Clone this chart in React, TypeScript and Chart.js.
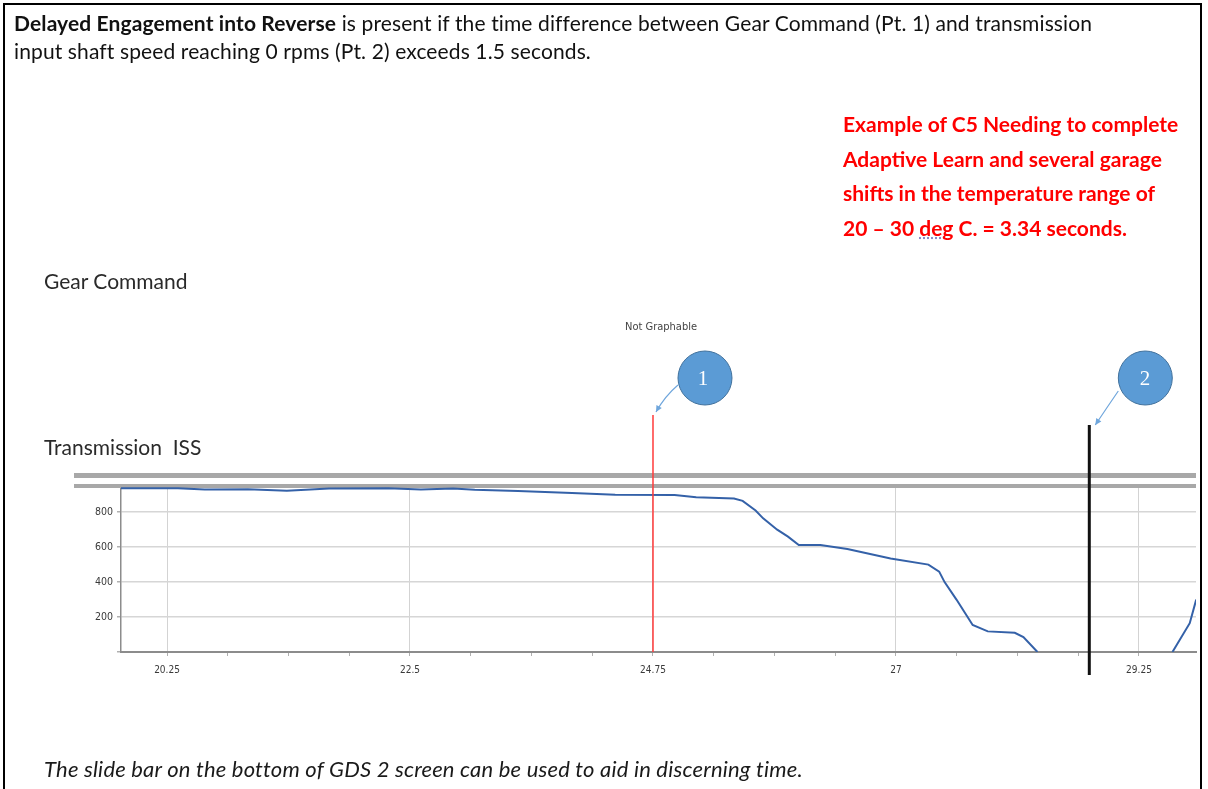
import React, { useEffect, useRef } from 'react';
import { Chart, registerables } from 'chart.js';

Chart.register(...registerables);

// ---- data ----
const timeSeconds = [19.82, 20.35, 20.6, 21.0, 21.36, 21.75, 22.3, 22.6, 22.9, 23.1, 23.5, 24.0, 24.4, 24.95, 25.15, 25.5, 25.58, 25.7, 25.77, 25.9, 26.0, 26.1, 26.3, 26.55, 26.95, 27.3, 27.4, 27.45, 27.56, 27.71, 27.85, 28.1, 28.18, 28.31, 28.9, 29.56, 29.72, 29.78];
const issRpm: (number | null)[] = [937, 937, 930, 931, 923, 935, 937, 930, 935, 928, 922, 910, 900, 898, 885, 878, 865, 810, 765, 700, 660, 612, 612, 590, 535, 500, 460, 400, 300, 155, 118, 110, 85, 0, null, 0, 165, 300];
const majorTicks = [20.25, 22.5, 24.75, 27, 29.25];
const majorTickLabels = ['20.25', '22.5', '24.75', '27', '29.25'];
const yTicks = [0, 200, 400, 600, 800];
const yTickLabels = ['', '200', '400', '600', '800'];
const xRange = [19.824, 29.778];
const yRange = [0, 950];
const gearCommandTime = 24.75; // Pt. 1
const zeroSpeedTime = 28.79; // Pt. 2
const markerLabels = ['1', '2'];

const FONT = "Lato, 'Open Sans', sans-serif";
const NARROW = "'Liberation Sans Narrow', 'DejaVu Sans Condensed', sans-serif";

const overlayPlugin = {
  id: 'overlay',
  beforeDatasetsDraw(chart: any) {
    const { ctx, chartArea } = chart;
    ctx.save();
    // double grey band (track separators)
    ctx.fillStyle = '#a8a8a8';
    ctx.fillRect(74, 473, 1196 - 74, 5);
    ctx.fillRect(74, chartArea.top - 2, 1196 - 74, 4);
    ctx.restore();
  },
  afterDatasetsDraw(chart: any) {
    const { ctx, chartArea, scales } = chart;
    const x1 = scales.x.getPixelForValue(gearCommandTime);
    const x2 = scales.x.getPixelForValue(zeroSpeedTime);
    ctx.save();
    // red marker (Pt. 1)
    ctx.strokeStyle = '#ff3b3b';
    ctx.lineWidth = 1.5;
    ctx.beginPath();
    ctx.moveTo(x1, 415);
    ctx.lineTo(x1, chartArea.bottom);
    ctx.stroke();
    // black marker (Pt. 2)
    ctx.strokeStyle = '#111';
    ctx.lineWidth = 3;
    ctx.beginPath();
    ctx.moveTo(x2, 425);
    ctx.lineTo(x2, chartArea.bottom + 23);
    ctx.stroke();

    const circles = [
      { cx: x1 + 52, cy: 378, tx: x1 + 3, ty: 412, sx: x1 + 25, sy: 385, mx: x1 + 12, my: 396 },
      { cx: x2 + 56, cy: 378, tx: x2 + 6, ty: 425, sx: x2 + 29, sy: 391, mx: x2 + 18, my: 407 },
    ];
    circles.forEach((c) => {
      ctx.strokeStyle = '#6fa6dc';
      ctx.fillStyle = '#6fa6dc';
      ctx.lineWidth = 1.2;
      ctx.beginPath();
      ctx.moveTo(c.sx, c.sy);
      ctx.quadraticCurveTo(c.mx, c.my, c.tx, c.ty);
      ctx.stroke();
      const ang = Math.atan2(c.ty - c.my, c.tx - c.mx);
      ctx.beginPath();
      ctx.moveTo(c.tx, c.ty);
      ctx.lineTo(c.tx - 7 * Math.cos(ang - 0.45), c.ty - 7 * Math.sin(ang - 0.45));
      ctx.lineTo(c.tx - 7 * Math.cos(ang + 0.45), c.ty - 7 * Math.sin(ang + 0.45));
      ctx.closePath();
      ctx.fill();
      ctx.beginPath();
      ctx.arc(c.cx, c.cy, 27, 0, Math.PI * 2);
      ctx.fillStyle = '#5b9bd5';
      ctx.fill();
      ctx.strokeStyle = '#41719c';
      ctx.lineWidth = 1;
      ctx.stroke();
    });
    ctx.restore();
  },
};

function isMajor(v: number) {
  return majorTicks.findIndex((m) => Math.abs(m - v) < 1e-6);
}

export default function App() {
  const canvasRef = useRef<HTMLCanvasElement | null>(null);

  useEffect(() => {
    const canvas = canvasRef.current;
    if (!canvas) return;
    const points = timeSeconds.map((t, i) => ({ x: t, y: issRpm[i] }));
    const chart = new Chart(canvas, {
      type: 'line',
      data: {
        datasets: [
          {
            label: 'Transmission ISS',
            data: points as any,
            borderColor: '#3461a8',
            borderWidth: 2,
            pointRadius: 0,
            tension: 0,
            spanGaps: false,
          },
        ],
      },
      options: {
        responsive: false,
        animation: false,
        layout: { padding: { left: 81, right: 12, top: 486, bottom: 107 } },
        plugins: { legend: { display: false }, tooltip: { enabled: false }, title: { display: false } },
        scales: {
          x: {
            type: 'linear',
            min: xRange[0],
            max: xRange[1],
            afterBuildTicks: (scale: any) => {
              const ticks: any[] = [];
              const step = (majorTicks[1] - majorTicks[0]) / 4;
              for (let i = 0; i <= (majorTicks.length - 1) * 4; i++) {
                ticks.push({ value: majorTicks[0] + i * step });
              }
              scale.ticks = ticks;
            },
            afterFit: (scale: any) => {
              scale.height = 30;
            },
            ticks: {
              autoSkip: false,
              maxRotation: 0,
              padding: 8,
              color: '#3a3a3a',
              font: { family: NARROW, size: 10 },
              callback: (v: any) => {
                const idx = isMajor(Number(v));
                return idx >= 0 ? majorTickLabels[idx] : '';
              },
            },
            grid: {
              color: (c: any) => (c.tick && isMajor(c.tick.value) >= 0 ? '#d3d3d3' : 'rgba(0,0,0,0)'),
              tickColor: '#b0b0b0',
              tickLength: 4,
              lineWidth: 1,
            },
            border: { color: '#8c8c8c', width: 2 },
          },
          y: {
            type: 'linear',
            min: yRange[0],
            max: yRange[1],
            afterBuildTicks: (scale: any) => {
              scale.ticks = yTicks.map((v) => ({ value: v }));
            },
            afterFit: (scale: any) => {
              scale.width = 40;
            },
            ticks: {
              padding: 4,
              color: '#3a3a3a',
              font: { family: NARROW, size: 10.5 },
              callback: (v: any) => {
                const idx = yTicks.indexOf(Number(v));
                return idx >= 0 ? yTickLabels[idx] : '';
              },
            },
            grid: { color: '#d6d6d6', tickColor: '#b0b0b0', tickLength: 4, lineWidth: 1.5 },
            border: { color: '#8c8c8c', width: 1.5 },
          },
        },
      },
      plugins: [overlayPlugin],
    });
    return () => chart.destroy();
  }, []);

  const abs = (left: number, top: number, extra: any = {}): React.CSSProperties => ({
    position: 'absolute',
    left,
    top,
    whiteSpace: 'nowrap',
    margin: 0,
    ...extra,
  });

  return (
    <div style={{ position: 'absolute', left: 0, top: 0, width: 1208, height: 789, overflow: 'hidden', background: '#fff' }}>
      <canvas ref={canvasRef} width={1208} height={789} style={{ position: 'absolute', left: 0, top: 0, width: 1208, height: 789 }} />
      <div style={{ position: 'absolute', left: 3, top: 3, width: 1195, height: 820, border: '2px solid #000' }} />
      <div style={abs(14, 9, { fontFamily: FONT, fontSize: 21, letterSpacing: '0.12px', lineHeight: '28px', color: '#111' })}>
        <b>Delayed Engagement into Reverse</b> is present if the time difference between Gear Command (Pt. 1) and transmission
        <br />
        input shaft speed reaching 0 rpms (Pt. 2) exceeds 1.5 seconds.
      </div>
      <div style={abs(843, 107, { fontFamily: FONT, fontSize: 21, fontWeight: 700, lineHeight: '34.5px', color: '#ff0000' })}>
        Example of C5 Needing to complete
        <br />
        Adaptive Learn and several garage
        <br />
        shifts in the temperature range of
        <br />
        20 – 30{' '}
        <span style={{ textDecorationLine: 'underline', textDecorationStyle: 'dotted', textDecorationColor: '#8a8ac8' }}>deg</span> C. = 3.34 seconds.
      </div>
      <div style={abs(44, 268, { fontFamily: FONT, fontSize: 21, color: '#2a2a2a' })}>Gear Command</div>
      <div style={abs(44, 434, { fontFamily: FONT, fontSize: 21, color: '#2a2a2a' })}>Transmission&nbsp; ISS</div>
      <div style={abs(625, 320, { fontFamily: NARROW, fontSize: 11, color: '#444' })}>Not Graphable</div>
      <div style={abs(703 - 10, 366, { width: 20, textAlign: 'center', fontFamily: "'Liberation Serif', serif", fontSize: 21, lineHeight: '24px', color: '#fff' })}>{markerLabels[0]}</div>
      <div style={abs(1145 - 10, 366, { width: 20, textAlign: 'center', fontFamily: "'Liberation Serif', serif", fontSize: 21, lineHeight: '24px', color: '#fff' })}>{markerLabels[1]}</div>
      <div style={abs(44, 755, { fontFamily: FONT, fontSize: 22, letterSpacing: '0.2px', fontStyle: 'italic', color: '#1a1a1a' })}>
        The slide bar on the bottom of GDS 2 screen can be used to aid in discerning time.
      </div>
    </div>
  );
}
